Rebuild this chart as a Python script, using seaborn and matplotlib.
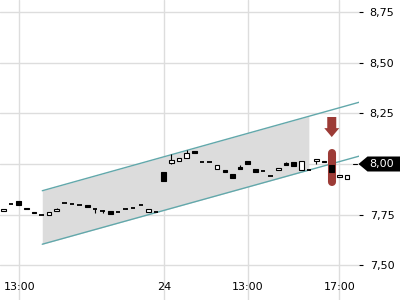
import numpy as np
import pandas as pd
import matplotlib
matplotlib.use("Agg")
import matplotlib.pyplot as plt
import matplotlib.transforms as mtransforms
from matplotlib.patches import Polygon, FancyArrow
from matplotlib.lines import Line2D
import seaborn as sns

# ---------------- data ----------------
opens = [7.767, 7.801, 7.817, 7.785, 7.763, 7.748, 7.747, 7.766, 7.806, 7.801,
         7.798, 7.798, 7.777, 7.766, 7.768, 7.763, 7.777, 7.781, 7.798, 7.762,
         7.763, 7.961, 8.007, 8.015, 8.030, 8.064, 8.010, 8.010, 7.977, 7.970,
         7.951, 7.985, 8.015, 7.975, 7.965, 7.941, 7.969, 8.006, 8.008, 7.970,
         7.972, 8.013, 8.015, 7.995, 7.934, 7.927]
closes = [7.780, 7.801, 7.800, 7.780, 7.757, 7.748, 7.761, 7.777, 7.806, 7.801,
          7.798, 7.786, 7.777, 7.766, 7.753, 7.763, 7.777, 7.781, 7.798, 7.777,
          7.763, 7.918, 8.020, 8.030, 8.054, 8.052, 8.010, 8.010, 7.994, 7.962,
          7.932, 7.977, 8.001, 7.962, 7.965, 7.941, 7.979, 7.995, 7.992, 8.013,
          7.972, 8.025, 8.010, 7.962, 7.944, 7.946]
# explicit wick extremes (None = body only)
highs = {7: 7.783, 13: 7.773, 16: 7.785, 22: 8.049, 24: 8.067, 31: 7.995,
         37: 8.011, 40: 7.977}
lows = {12: 7.757, 13: 7.758, 22: 8.002, 41: 7.999}

tick_pos = [2.1, 21.05, 32.05, 44.0]
tick_labels = ["13:00", "24", "13:00", "17:00"]
y_ticks = [7.50, 7.75, 8.00, 8.25, 8.50, 8.75]

chan_x = [5.1, 46.6]
chan_upper = [7.868, 8.305]
chan_lower = [7.604, 8.039]
shade_x = [5.1, 40.0]
shade_upper = [7.868, 8.236]
shade_lower = [7.604, 7.970]

signal_idx = 43
arrow_top, arrow_tip = 8.232, 8.133
capsule_top, capsule_bottom = 8.053, 7.911
last_label = 8.00

# ---------------- style ----------------
sns.set_style("white")
plt.rcParams['font.family'] = ['DejaVu Sans']

fig = plt.figure(figsize=(4, 3), dpi=100)
ax = fig.add_axes([0, 0, 358.5 / 400, 1])
ax.set_xlim(-0.432, 46.5)
ax.set_ylim(7.3287, 8.8095)

for s in ax.spines.values():
    s.set_visible(False)

ax.grid(True, color="#dddddd", linewidth=1.0)
ax.set_axisbelow(True)

# channel
df_ch = pd.DataFrame({"x": chan_x * 2,
                      "y": chan_upper + chan_lower,
                      "line": ["upper"] * 2 + ["lower"] * 2})
ax.fill_between(shade_x, shade_lower, shade_upper, color="#dcdcdc", linewidth=0, zorder=1)
sns.lineplot(data=df_ch, x="x", y="y", units="line", estimator=None,
             color="#62a8ab", linewidth=1.0, ax=ax, zorder=2, legend=False)

# signal capsule and arrow
red = "#9c3b36"
ax.plot([signal_idx, signal_idx], [capsule_top, capsule_bottom], color=red,
        linewidth=5.8, solid_capstyle="round", zorder=2.5)
ax.add_patch(FancyArrow(signal_idx, arrow_top, 0, arrow_tip - arrow_top,
                        width=1.18, head_width=1.96, head_length=0.044,
                        length_includes_head=True, color=red, linewidth=0, zorder=3))

# candles
w = 0.6
for i, (o, c) in enumerate(zip(opens, closes)):
    hi = highs.get(i, max(o, c))
    lo = lows.get(i, min(o, c))
    if hi > max(o, c) or lo < min(o, c):
        ax.vlines(i, lo, hi, color="black", linewidth=0.8, zorder=3)
    if abs(c - o) < 1e-9:
        ax.hlines(o, i - w / 2, i + w / 2, color="black", linewidth=1.3, zorder=4)
    elif c > o:
        ax.bar(i, c - o, bottom=o, width=w, facecolor="white", edgecolor="black",
               linewidth=0.8, zorder=4)
    else:
        ax.bar(i, o - c, bottom=c, width=w, facecolor="black", edgecolor="black",
               linewidth=0.8, zorder=4)

ax.set_xlabel("")
ax.set_ylabel("")

# axes ticks
ax.set_xticks(tick_pos)
ax.set_xticklabels(tick_labels)
ax.tick_params(axis="x", direction="in", length=3.5, width=0.8, pad=-13,
               labelsize=8, colors="black")
ax.yaxis.tick_right()
ax.set_yticks(y_ticks)
ax.set_yticklabels([f"{v:.2f}".replace(".", ",") for v in y_ticks])
ax.tick_params(axis="y", direction="out", length=3, width=0.8, pad=5,
               labelsize=8, colors="black")

# last value tag
fig.canvas.draw()
ydisp = ax.transData.transform((0, last_label))[1]
xr = 358.5
pts = [(xr, ydisp), (xr + 9, ydisp + 7.5), (400, ydisp + 7.5),
       (400, ydisp - 7.5), (xr + 9, ydisp - 7.5)]
tag = Polygon(pts, closed=True, transform=mtransforms.IdentityTransform(),
              facecolor="black", edgecolor="none", zorder=10)
fig.add_artist(tag)
fig.add_artist(Line2D([353, 357], [ydisp, ydisp], transform=mtransforms.IdentityTransform(),
                      color="black", linewidth=0.8, zorder=10))
fig.text(382 / 400, ydisp / 300, f"{last_label:.2f}".replace(".", ","), color="white",
         fontsize=8, ha="center", va="center", zorder=11)

fig.savefig("out.png", dpi=100)
